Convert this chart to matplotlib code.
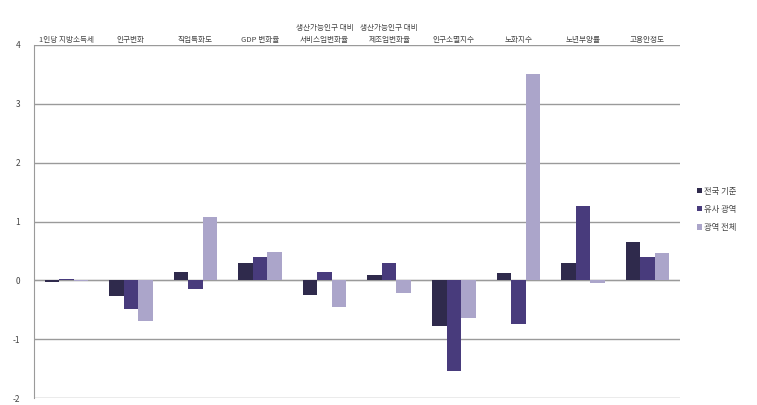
import matplotlib
matplotlib.use("Agg")
import matplotlib.pyplot as plt
import numpy as np

plt.rcParams["font.family"] = ["Noto Sans CJK KR", "DejaVu Sans"]

# Indicators (top labels) and series values
categories = ["1인당 지방소득세", "인구변화", "직업특화도", "GDP 변화율",
              "생산가능인구 대비\n서비스업변화율", "생산가능인구 대비\n제조업변화율",
              "인구소멸지수", "노화지수", "노년부양률", "고용안정도"]
series_names = ["전국 기준", "유사 광역", "광역 전체"]
national = [-0.03, -0.27, 0.14, 0.30, -0.25, 0.09, -0.77, 0.13, 0.30, 0.66]
similar = [0.02, -0.49, -0.15, 0.39, 0.14, 0.30, -1.54, -0.74, 1.27, 0.40]
overall = [-0.01, -0.69, 1.07, 0.49, -0.45, -0.22, -0.64, 3.50, -0.04, 0.46]
y_ticks = [-2, -1, 0, 1, 2, 3, 4]

colors = ["#2f2a4c", "#483b7c", "#aba5ca"]

fig = plt.figure(figsize=(7.57, 4.05), dpi=100)
ax = fig.add_axes([0.045, 0.017, 0.853, 0.872])

x = np.arange(len(categories))
w = 0.225
for i, (vals, name) in enumerate(zip([national, similar, overall], series_names)):
    ax.bar(x + (i - 1) * w, vals, width=w, color=colors[i], label=name, zorder=3)

ax.set_xlim(-0.5, len(categories) - 0.5)
ax.set_ylim(-2, 4)
ax.set_yticks(y_ticks)
ax.set_yticklabels([str(t) for t in y_ticks], fontsize=6, color="#444444")
ax.yaxis.grid(True, color="#9a9a9a", linewidth=1.0, zorder=0)
ax.axhline(0, color="#d0d0d0", linewidth=1.0, zorder=1)

ax.xaxis.tick_top()
ax.set_xticks(x)
ax.set_xticklabels(categories, fontsize=5.5, color="#444444", linespacing=1.6)
ax.tick_params(axis="x", length=0, pad=1)
ax.tick_params(axis="y", length=0, pad=10)

for s in ["top", "right", "bottom"]:
    ax.spines[s].set_visible(False)
ax.spines["left"].set_color("#9a9a9a")

ax.legend(loc="center left", bbox_to_anchor=(1.015, 0.535), frameon=False,
          fontsize=6, handlelength=0.6, handleheight=0.6, handletextpad=0.3,
          labelspacing=1.1, labelcolor="#444444")

plt.savefig("out.png", dpi=100)
